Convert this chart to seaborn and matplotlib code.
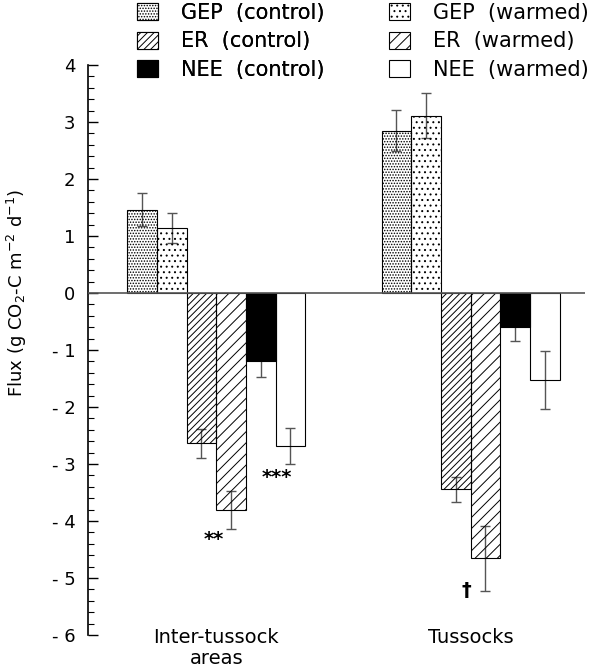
import pandas as pd
import numpy as np
import seaborn as sns
import matplotlib.pyplot as plt
from matplotlib.patches import Patch
from matplotlib.ticker import MultipleLocator, FuncFormatter

# values (g CO2-C m-2 d-1), mean and error bar half-length
sites = ['Inter-tussock\nareas', 'Tussocks']
series = ['GEP  (control)', 'GEP  (warmed)', 'ER  (control)',
          'ER  (warmed)', 'NEE  (control)', 'NEE  (warmed)']

gep_control = [1.46, 2.85]
gep_control_err = [0.29, 0.36]
gep_warmed = [1.14, 3.11]
gep_warmed_err = [0.26, 0.39]
er_control = [-2.64, -3.44]
er_control_err = [0.25, 0.22]
er_warmed = [-3.81, -4.65]
er_warmed_err = [0.33, 0.57]
nee_control = [-1.19, -0.59]
nee_control_err = [0.29, 0.26]
nee_warmed = [-2.68, -1.53]
nee_warmed_err = [0.32, 0.51]

y_ticks = [4, 3, 2, 1, 0, -1, -2, -3, -4, -5, -6]

# significance marks: (series index, site index, label)
marks = [(3, 0, '**'), (5, 0, '***'), (3, 1, '\u2020')]


def build_frame():
    values = [gep_control, gep_warmed, er_control, er_warmed, nee_control, nee_warmed]
    errors = [gep_control_err, gep_warmed_err, er_control_err,
              er_warmed_err, nee_control_err, nee_warmed_err]
    rows = []
    for name, vals, errs in zip(series, values, errors):
        for site, v, e in zip(sites, vals, errs):
            rows.append({'site': site, 'series': name, 'flux': v, 'err': e})
    return pd.DataFrame(rows)


def main():
    sns.set_style('white')
    plt.rcParams['font.family'] = ['DejaVu Sans']
    plt.rcParams['hatch.linewidth'] = 0.7
    plt.rcParams['mathtext.default'] = 'regular'
    for key in ['text.color', 'axes.labelcolor', 'xtick.color', 'ytick.color']:
        plt.rcParams[key] = 'black'

    df = build_frame()

    fig = plt.figure(figsize=(6.03, 6.69), dpi=100)
    ax = fig.add_axes([88 / 603, 1 - 635 / 669, 497 / 603, 570 / 669])

    sns.barplot(data=df, x='site', y='flux', hue='series', order=sites,
                hue_order=series, width=0.70, errorbar=None, legend=False,
                saturation=1, ax=ax)

    styles = [
        dict(facecolor='none', hatch='......'),
        dict(facecolor='none', hatch='...'),
        dict(facecolor='none', hatch='/////'),
        dict(facecolor='none', hatch='///'),
        dict(facecolor='black', hatch=None),
        dict(facecolor='none', hatch=None),
    ]

    ends = {}
    for i, (cont, st) in enumerate(zip(ax.containers, styles)):
        errs = df[df['series'] == series[i]].set_index('site').loc[sites, 'err'].values
        for j, bar in enumerate(cont):
            bar.set_facecolor(st['facecolor'])
            bar.set_hatch(st['hatch'])
            bar.set_edgecolor('black')
            bar.set_linewidth(0.8)
            bar.set_zorder(2)
            cx = bar.get_x() + bar.get_width() / 2
            top = bar.get_y() + bar.get_height()
            ax.errorbar(cx, top, yerr=errs[j], color='#555555', lw=1,
                        capsize=3.5, capthick=1, zorder=1.5)
            ends[(i, j)] = (cx, top - errs[j] if top < 0 else top + errs[j])

    offsets = {'**': (-12.6, -11.5), '***': (-9.7, -14), '\u2020': (-13.7, -4)}
    for i, j, label in marks:
        x, y = ends[(i, j)]
        ax.annotate(label, (x, y), xytext=offsets[label], textcoords='offset points',
                    ha='center', va='baseline', fontsize=14, fontweight='bold')

    ax.axhline(0, color='#555555', lw=1.2, zorder=3)

    ax.set_xlim(-0.504, 1.45)
    ax.set_ylim(-6, 4)
    ax.set_yticks(y_ticks)
    ax.yaxis.set_minor_locator(MultipleLocator(0.2))
    ax.yaxis.set_major_formatter(FuncFormatter(
        lambda v, p: f'- {abs(int(round(v)))}' if v < -0.01 else f'{int(round(v))}'))
    ax.tick_params(axis='y', which='major', direction='in', length=7, width=1,
                   labelsize=13, pad=9, left=True)
    ax.tick_params(axis='y', which='minor', direction='in', length=4.5, width=0.8,
                   left=True)
    ax.tick_params(axis='x', length=0, labelsize=14, pad=-5)
    for lab in ax.get_xticklabels():
        lab.set_linespacing(1.1)

    for side in ['top', 'right', 'bottom']:
        ax.spines[side].set_visible(False)
    ax.spines['left'].set_color('black')
    ax.spines['left'].set_linewidth(1.2)

    ax.set_xlabel('')
    ax.set_ylabel('Flux (g CO$_2$-C m$^{-2}$ d$^{-1}$)', fontsize=13)
    ax.yaxis.set_label_coords(-0.119, 0.6)

    handles = []
    for name, st in zip(series, styles):
        handles.append(Patch(facecolor=st['facecolor'] if st['facecolor'] != 'none' else 'white',
                             hatch=st['hatch'], edgecolor='black', linewidth=0.8, label=name))

    common = dict(loc='upper left', frameon=False, fontsize=15, handlelength=1.0,
                  handleheight=0.9, handletextpad=1.1, labelspacing=0.4,
                  borderpad=0, borderaxespad=0)
    leg1 = fig.legend(handles=handles[0::2], bbox_to_anchor=(137 / 603, 1 - 3 / 669), **common)
    fig.legend(handles=handles[1::2], bbox_to_anchor=(389 / 603, 1 - 3 / 669), **common)
    fig.add_artist(leg1)

    fig.savefig('out.png', dpi=100)
    plt.close(fig)


if __name__ == '__main__':
    main()
